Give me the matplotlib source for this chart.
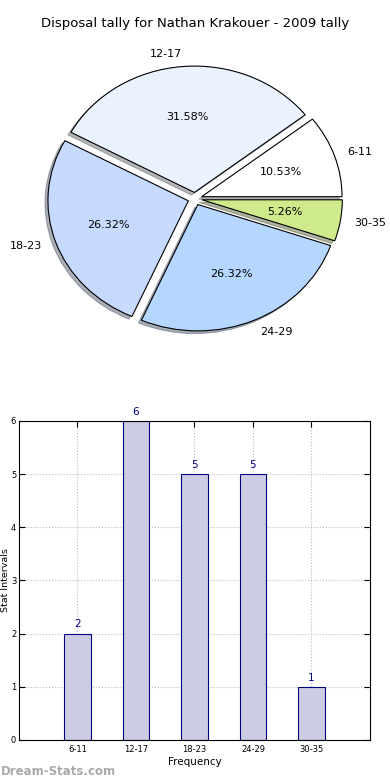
import matplotlib
matplotlib.use("Agg")
import matplotlib.pyplot as plt

# tally data
intervals = ["6-11", "12-17", "18-23", "24-29", "30-35"]
counts = [2, 6, 5, 5, 1]
slice_colors = ["#ffffff", "#eaf1ff", "#c6d9ff", "#b4d6ff", "#cfea8a"]

fig = plt.figure(figsize=(3.9, 7.8), dpi=100)

# pie on top
ax1 = fig.add_axes([0.05, 0.5427, 0.9, 0.405])
wedges, texts, autotexts = ax1.pie(counts, labels=intervals, colors=slice_colors,
                                   autopct="%.2f%%", explode=[0.05] * len(counts),
                                   shadow={"ox": -0.015, "oy": -0.015, "shade": 0.55},
                                   startangle=0,
                                   wedgeprops={"edgecolor": "black", "linewidth": 0.8},
                                   textprops={"fontsize": 8})
ax1.set_aspect("auto")
ax1.set_xlim(-1.25, 1.25)
ax1.set_ylim(-1.25, 1.25)
ax1.set_title("Disposal tally for Nathan Krakouer - 2009 tally", fontsize=9.5, pad=10)

# bar chart below
ax2 = fig.add_axes([0.0487, 0.0513, 0.9, 0.409])
x = list(range(1, len(intervals) + 1))
ax2.bar(x, counts, width=0.45, color="#ccccE4", edgecolor="#000080", linewidth=0.8, zorder=2)
for xi, c in zip(x, counts):
    ax2.text(xi, c + 0.08, str(c), ha="center", va="bottom", color="#000080", fontsize=7.5)
ax2.set_xlim(0, 6)
ax2.set_ylim(0, 6)
ax2.set_xticks(x)
ax2.set_xticklabels(intervals)
ax2.set_yticks(range(0, 7))
ax2.tick_params(direction="in", top=True, right=True, labelsize=6, length=4)
ax2.tick_params(axis="y", pad=2)
ax2.grid(True, linestyle=":", color="#bbbbbb", linewidth=0.8)
ax2.set_xlabel("Frequency", fontsize=7.5, labelpad=2)
ax2.set_ylabel("Stat Intervals", fontsize=6.8)
ax2.yaxis.set_label_coords(-0.026, 0.5)

fig.text(0.002, 0.0115, "Dream-Stats.com", color="#aaaaaa", fontsize=8.5,
         fontweight="bold", ha="left", va="center")

fig.savefig("out.png", dpi=100)
